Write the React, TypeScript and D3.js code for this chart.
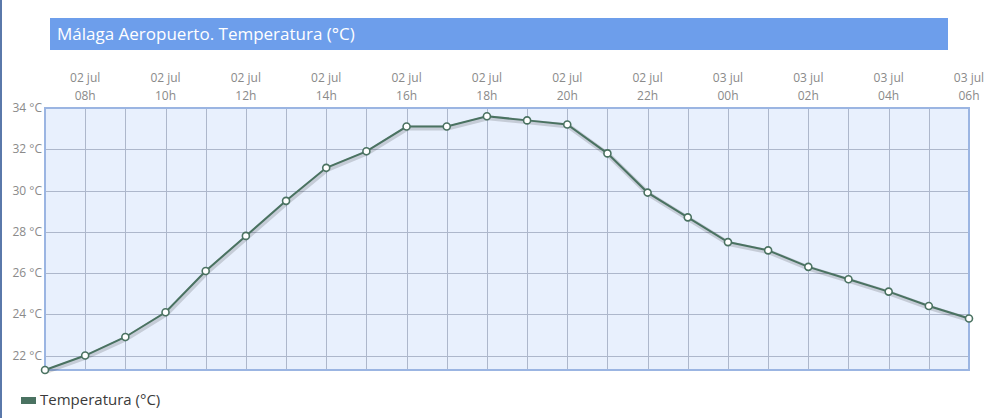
import { useEffect, useRef } from "react";
import * as d3 from "d3";

const HOURS = ["07h", "08h", "09h", "10h", "11h", "12h", "13h", "14h", "15h", "16h", "17h", "18h", "19h", "20h", "21h", "22h", "23h", "00h", "01h", "02h", "03h", "04h", "05h", "06h"];
const DAYS = ["02 jul", "02 jul", "02 jul", "02 jul", "02 jul", "02 jul", "02 jul", "02 jul", "02 jul", "02 jul", "02 jul", "02 jul", "02 jul", "02 jul", "02 jul", "02 jul", "02 jul", "03 jul", "03 jul", "03 jul", "03 jul", "03 jul", "03 jul", "03 jul"];
const TEMPS = [21.3, 22.0, 22.9, 24.1, 26.1, 27.8, 29.5, 31.1, 31.9, 33.1, 33.1, 33.6, 33.4, 33.2, 31.8, 29.9, 28.7, 27.5, 27.1, 26.3, 25.7, 25.1, 24.4, 23.8];
const Y_TICKS = [22, 24, 26, 28, 30, 32, 34];

const TITLE = "Málaga Aeropuerto. Temperatura (°C)";
const SERIES = "Temperatura (°C)";

export default function App() {
  const svgRef = useRef<SVGSVGElement | null>(null);

  useEffect(() => {
    if (!svgRef.current) return;
    const W = 990, H = 418;
    const left = 45, right = 969, top = 108, bottom = 370;
    const lineColor = "#4a7261";
    const font = "'Open Sans', sans-serif";

    const svg = d3.select(svgRef.current);
    svg.selectAll("*").remove();
    svg.attr("width", W).attr("height", H);

    svg.append("rect").attr("width", W).attr("height", H).attr("fill", "#fff");
    svg.append("rect").attr("x", 0).attr("y", 0).attr("width", 2).attr("height", H).attr("fill", "#5a78aa");

    // title bar
    svg.append("rect").attr("x", 50).attr("y", 18).attr("width", 898).attr("height", 32).attr("fill", "#6d9eeb");
    svg.append("text").attr("x", 57).attr("y", 40).attr("font-family", font).attr("font-size", 17)
      .attr("fill", "#fff").text(TITLE);

    const x = d3.scaleLinear().domain([0, HOURS.length - 1]).range([left, right]);
    const y = d3.scaleLinear().domain([21.3, 34]).range([bottom, top]);

    svg.append("rect").attr("x", left).attr("y", top).attr("width", right - left).attr("height", bottom - top)
      .attr("fill", "#e8f0fd");

    const grid = svg.append("g").attr("stroke", "#adb7cb").attr("stroke-width", 1);
    HOURS.forEach((_, i) => {
      if (i === 0 || i === HOURS.length - 1) return;
      grid.append("line").attr("x1", Math.round(x(i)) + 0.5).attr("x2", Math.round(x(i)) + 0.5)
        .attr("y1", top).attr("y2", bottom);
    });
    Y_TICKS.forEach((t) => {
      if (t === 34) return;
      grid.append("line").attr("x1", left).attr("x2", right)
        .attr("y1", Math.round(y(t)) + 0.5).attr("y2", Math.round(y(t)) + 0.5);
    });

    svg.append("rect").attr("x", left).attr("y", top).attr("width", right - left).attr("height", bottom - top)
      .attr("fill", "none").attr("stroke", "#9bb5e2").attr("stroke-width", 2);

    // y labels
    Y_TICKS.forEach((t) => {
      svg.append("text").attr("x", 42).attr("y", y(t) + 4).attr("text-anchor", "end")
        .attr("font-family", font).attr("font-size", 12).attr("fill", "#8a8a8a").text(`${t} °C`);
    });

    // x labels every 2 hours
    HOURS.forEach((h, i) => {
      if (i % 2 === 0) return;
      svg.append("text").attr("x", x(i)).attr("y", 82).attr("text-anchor", "middle")
        .attr("font-family", font).attr("font-size", 12).attr("fill", "#8a8a8a").text(DAYS[i]);
      svg.append("text").attr("x", x(i)).attr("y", 100).attr("text-anchor", "middle")
        .attr("font-family", font).attr("font-size", 12).attr("fill", "#8a8a8a").text(h);
    });

    const line = d3.line<number>().x((_, i) => x(i)).y((d) => y(d));
    svg.append("path").datum(TEMPS).attr("d", line).attr("fill", "none")
      .attr("stroke", "#000").attr("stroke-opacity", 0.15).attr("stroke-width", 5)
      .attr("transform", "translate(1,1.5)");
    svg.append("path").datum(TEMPS).attr("d", line).attr("fill", "none")
      .attr("stroke", lineColor).attr("stroke-width", 2);

    svg.append("g").selectAll("circle").data(TEMPS).join("circle")
      .attr("cx", (_, i) => x(i)).attr("cy", (d) => y(d)).attr("r", 3.5)
      .attr("fill", "#fff").attr("stroke", lineColor).attr("stroke-width", 1.6);

    // legend
    svg.append("rect").attr("x", 21).attr("y", 397).attr("width", 15).attr("height", 7).attr("fill", lineColor);
    svg.append("text").attr("x", 40).attr("y", 405).attr("font-family", font).attr("font-size", 15)
      .attr("fill", "#3a3a3a").text(SERIES);
  }, []);

  return <svg ref={svgRef} style={{ position: "absolute", left: 0, top: 0, display: "block" }} />;
}
